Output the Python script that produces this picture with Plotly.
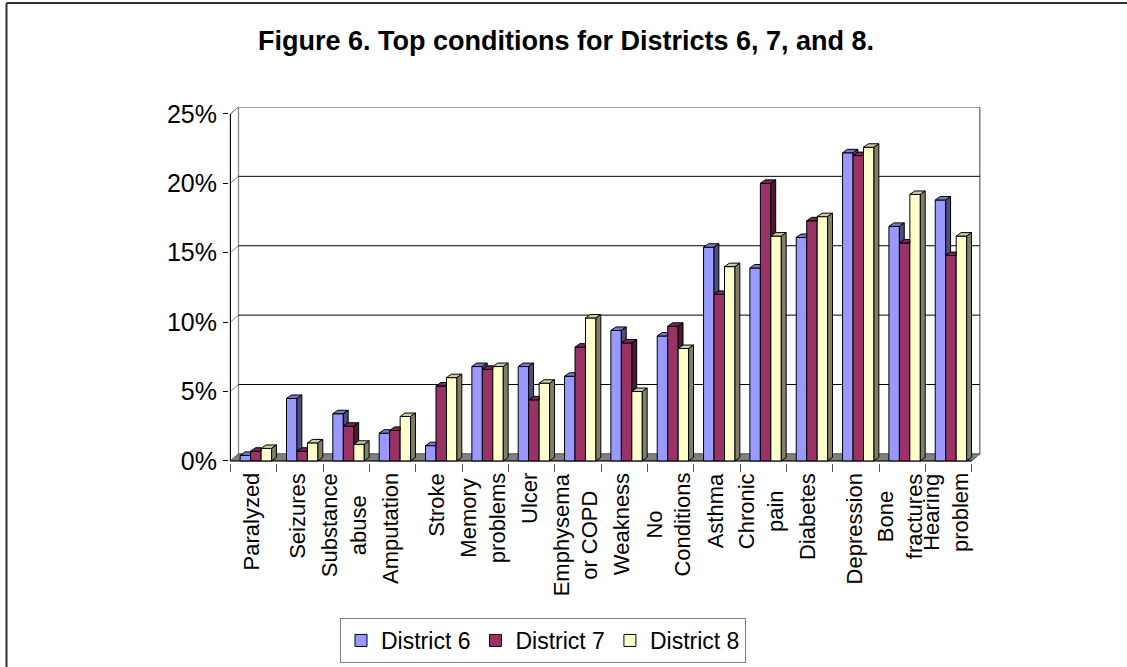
import numpy as np
import plotly.graph_objects as go

# ---- data -------------------------------------------------------------
categories = ["Paralyzed", "Seizures", "Substance<br>abuse", "Amputation", "Stroke",
              "Memory<br>problems", "Ulcer", "Emphysema<br>or COPD", "Weakness",
              "No<br>Conditions", "Asthma", "Chronic<br>pain", "Diabetes", "Depression",
              "Bone<br>fractures", "Hearing<br>problem"]
district6 = [0.4, 4.5, 3.4, 2.0, 1.1, 6.8, 6.8, 6.1, 9.4, 9.0, 15.4, 13.9, 16.1, 22.2, 16.9, 18.8]
district7 = [0.7, 0.7, 2.5, 2.2, 5.4, 6.6, 4.4, 8.2, 8.5, 9.7, 12.0, 20.0, 17.3, 22.0, 15.7, 14.8]
district8 = [0.9, 1.3, 1.2, 3.2, 6.0, 6.8, 5.6, 10.3, 5.0, 8.1, 14.0, 16.2, 17.6, 22.6, 19.2, 16.2]
series_names = ["District 6", "District 7", "District 8"]
y_ticks = [0, 5, 10, 15, 20, 25]
title_text = "Figure 6. Top conditions for Districts 6, 7, and 8."

# ---- styling / geometry -------------------------------------------------
FONT = "Arial, Liberation Sans, sans-serif"
front_colors = ["#9999FF", "#993366", "#FFFFCC"]
top_colors = ["#7A7ACC", "#7A2952", "#CCCCA3"]
side_colors = ["#4D4D80", "#4D1A33", "#808066"]

W, H = 1127, 667
M_L, M_R, M_T, M_B = 229, 145, 107, 204
PLOT_W, PLOT_H = W - M_L - M_R, H - M_T - M_B
X_RANGE = [-0.53, 15.72]
Y_RANGE = [-0.15, 25.5]

BAR_W = 0.226          # width of one column (category units)
GROUP_SHIFT = 0.05     # the column group sits slightly right of the category centre
DX_BAR, DY_BAR = 0.105, 0.25     # depth of each column
DX_WALL, DY_WALL = 0.1726, 0.504  # depth of the floor / walls


def paper_x(px):
    return (px - M_L) / PLOT_W


def paper_y(py):
    return (M_T + PLOT_H - py) / PLOT_H


series = [district6, district7, district8]
n = len(categories)
idx = np.arange(n)
centres = [idx + GROUP_SHIFT + (k - 1) * BAR_W for k in range(len(series))]

fig = go.Figure()

# front faces of the columns
for k, vals in enumerate(series):
    fig.add_trace(go.Bar(
        x=centres[k], y=vals, width=BAR_W, name=series_names[k],
        marker=dict(color=front_colors[k], line=dict(color="black", width=1)),
        hoverinfo="skip",
    ))

# top and side faces, trimmed where the next column hides them
for k, vals in enumerate(series):
    sx, sy, tx, ty = [], [], [], []
    for i in range(n):
        v = vals[i]
        nxt = series[k + 1][i] if k + 1 < len(series) else None
        xl = centres[k][i] - BAR_W / 2
        xr = xl + BAR_W
        base = 0 if nxt is None else min(v, nxt)
        if base < v:
            sx += [xr, xr, xr + DX_BAR, xr + DX_BAR, xr, None]
            sy += [base, v, v + DY_BAR, base + DY_BAR, base, None]
        right = xr if (nxt is not None and nxt > v) else xr + DX_BAR
        tx += [xl, xl + DX_BAR, right, xr, xl, None]
        ty += [v, v + DY_BAR, v + DY_BAR, v, v, None]
    fig.add_trace(go.Scatter(x=tx, y=ty, mode="lines", fill="toself",
                             fillcolor=top_colors[k], line=dict(color="black", width=1),
                             showlegend=False, hoverinfo="skip"))
    fig.add_trace(go.Scatter(x=sx, y=sy, mode="lines", fill="toself",
                             fillcolor=side_colors[k], line=dict(color="black", width=1),
                             showlegend=False, hoverinfo="skip"))

# ---- walls, floor and gridlines -----------------------------------------
left, right = -0.5, n - 0.5
y_top = y_ticks[-1]
shapes = []
shapes.append(dict(type="rect", xref="x", yref="y", layer="below",
                   x0=left + DX_WALL, x1=right + DX_WALL, y0=DY_WALL, y1=y_top + DY_WALL,
                   fillcolor="white", line=dict(color="#808080", width=1.5)))
shapes.append(dict(type="path", xref="x", yref="y", layer="below",
                   path=f"M{left},0 L{left},{y_top} L{left + DX_WALL},{y_top + DY_WALL} "
                        f"L{left + DX_WALL},{DY_WALL} Z",
                   fillcolor="white", line=dict(color="#808080", width=1)))
shapes.append(dict(type="path", xref="x", yref="y", layer="below",
                   path=f"M{left},0 L{left + DX_WALL},{DY_WALL} L{right + DX_WALL},{DY_WALL} "
                        f"L{right},0 Z",
                   fillcolor="#808080", line=dict(color="#606060", width=1)))
for v in y_ticks[1:-1]:
    shapes.append(dict(type="line", xref="x", yref="y", layer="below",
                       x0=left + DX_WALL, x1=right + DX_WALL, y0=v + DY_WALL, y1=v + DY_WALL,
                       line=dict(color="black", width=1)))
for v in y_ticks[1:]:
    shapes.append(dict(type="line", xref="x", yref="y", layer="below",
                       x0=left, x1=left + DX_WALL, y0=v, y1=v + DY_WALL,
                       line=dict(color="#808080", width=1)))
# front edges: value axis and category axis
shapes.append(dict(type="line", xref="x", yref="y", layer="below",
                   x0=left, x1=left, y0=0, y1=y_top, line=dict(color="black", width=1)))
shapes.append(dict(type="line", xref="x", yref="y", layer="below",
                   x0=left, x1=right, y0=0, y1=0, line=dict(color="black", width=1)))
# chart-area frame: only its left and top sides fall inside the page
shapes.append(dict(type="line", xref="paper", yref="paper",
                   x0=paper_x(6.5), x1=paper_x(6.5), y0=paper_y(H), y1=paper_y(3),
                   line=dict(color="#303030", width=2)))
shapes.append(dict(type="line", xref="paper", yref="paper",
                   x0=paper_x(6.5), x1=paper_x(W), y0=paper_y(3), y1=paper_y(3),
                   line=dict(color="#303030", width=2)))

# category labels, rotated and centred line by line
annotations = []
for i, lab in enumerate(categories):
    annotations.append(dict(x=i, y=0, xref="x", yref="y", text=lab, showarrow=False,
                            textangle=-90, xanchor="center", yanchor="top", align="center",
                            yshift=-10, xshift=-2,
                            font=dict(family=FONT, size=22, color="black")))

fig.update_layout(
    width=W, height=H,
    margin=dict(l=M_L, r=M_R, t=M_T, b=M_B, autoexpand=False),
    paper_bgcolor="white", plot_bgcolor="white",
    barmode="overlay",
    title=dict(text=f"<b>{title_text}</b>", x=566 / W, xref="container", xanchor="center",
               y=1 - 41 / H, yref="container", yanchor="middle",
               font=dict(family=FONT, size=27, color="black")),
    xaxis=dict(range=X_RANGE, tickvals=list(np.arange(n + 1) - 0.5), ticks="outside",
               ticklen=8, tickcolor="#555555", showticklabels=False,
               showgrid=False, zeroline=False, showline=False, fixedrange=True),
    yaxis=dict(range=Y_RANGE, tickvals=y_ticks, ticktext=[f"{v}%" for v in y_ticks],
               ticks="outside", ticklen=5, tickcolor="black", ticklabelstandoff=1,
               tickfont=dict(family=FONT, size=25, color="black"),
               showgrid=False, zeroline=False, showline=False, fixedrange=True),
    legend=dict(orientation="h", x=paper_x(543), y=paper_y(618), xanchor="center",
                yanchor="top", bordercolor="#808080", borderwidth=1, bgcolor="white",
                font=dict(family=FONT, size=23, color="black")),
    shapes=shapes,
    annotations=annotations,
    showlegend=True,
)

# keep the page exactly the size of the figure (no scroll bars)
fig.write_html(
    "out.html",
    config={"displayModeBar": False},
    post_script="document.documentElement.style.overflow='hidden';"
                "document.body.style.overflow='hidden';document.body.style.margin='0';",
)
